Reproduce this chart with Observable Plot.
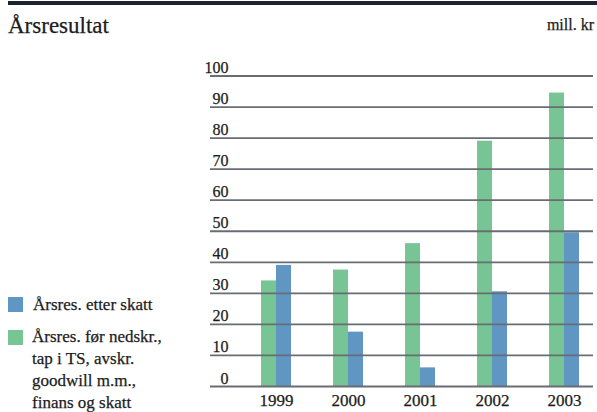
<!DOCTYPE html>
<html>
<head>
<meta charset="utf-8">
<script src="https://cdn.jsdelivr.net/npm/d3@7"></script>
<script src="https://cdn.jsdelivr.net/npm/@observablehq/plot@0.6"></script>
<style>
  html, body { margin: 0; padding: 0; background: #fff; }
  body { width: 597px; height: 412px; position: relative; overflow: hidden;
         font-family: "Liberation Serif", "DejaVu Serif", serif; color: #1c1c1c; }
  .abs { position: absolute; white-space: nowrap; -webkit-text-stroke: 0.25px #1c1c1c; }
  #chart { position: absolute; left: 0; top: 0; }
</style>
</head>
<body>
<div id="chart"></div>
<div class="abs" style="left:8px;top:1px;width:589px;height:4px;background:#1d2331;"></div>
<div class="abs" style="left:8px;top:13.7px;font-size:23px;line-height:23px;">Årsresultat</div>
<div class="abs" style="right:3px;top:16.6px;font-size:16px;line-height:16px;">mill. kr</div>

<div class="abs" style="left:8px;top:297px;width:15px;height:15px;background:#6096c4;"></div>
<div class="abs" style="left:33px;top:294.4px;font-size:17px;line-height:21.7px;">Årsres. etter skatt</div>
<div class="abs" style="left:8px;top:330px;width:15px;height:15px;background:#77c594;"></div>
<div class="abs" style="left:32px;top:326.4px;font-size:17px;line-height:21.7px;">Årsres. før nedskr.,<br>tap i TS, avskr.<br>goodwill m.m.,<br>finans og skatt</div>

<script>
const years = ["1999", "2000", "2001", "2002", "2003"];
const forSkatt = [34, 37.5, 46, 79, 94.5];     // green: Årsres. før nedskr., tap i TS, avskr. goodwill m.m., finans og skatt
const etterSkatt = [39, 17.5, 6, 30.5, 49.5];  // blue: Årsres. etter skatt
const yTicks = [0, 10, 20, 30, 40, 50, 60, 70, 80, 90, 100];

const GREEN = "#77c594";
const BLUE = "#6096c4";

const data = years.map((y, i) => ({year: y, green: forSkatt[i], blue: etterSkatt[i]}));

const font = "'Liberation Serif', 'DejaVu Serif', serif";

const chart = Plot.plot({
  width: 597,
  height: 412,
  marginTop: 75.5,
  marginBottom: 26,
  marginLeft: 210,
  marginRight: 4,
  style: {fontFamily: font, background: "transparent", overflow: "visible"},
  x: {type: "band", domain: years, range: [260, 580], paddingInner: 0.586, paddingOuter: 0, axis: null},
  y: {domain: [0, 100], axis: null},
  marks: [
    Plot.barY(data, {x: "year", y: "green", fill: GREEN, insetRight: 15}),
    Plot.barY(data, {x: "year", y: "blue", fill: BLUE, insetLeft: 15}),
    Plot.ruleY(yTicks, {y: d => d, stroke: "#696d72", strokeWidth: 1.8}),
    Plot.text(yTicks, {y: d => d, text: d => String(d), frameAnchor: "left", textAnchor: "end",
      lineAnchor: "bottom", dx: 18, dy: -3, fontSize: 16, fontFamily: font,
      fill: "#1c1c1c", stroke: "#1c1c1c", strokeWidth: 0.25}),
    Plot.text(data, {x: "year", text: "year", frameAnchor: "bottom", lineAnchor: "top",
      dy: 7, fontSize: 17, fontFamily: font,
      fill: "#1c1c1c", stroke: "#1c1c1c", strokeWidth: 0.25})
  ]
});
document.getElementById("chart").appendChild(chart);
</script>
</body>
</html>
